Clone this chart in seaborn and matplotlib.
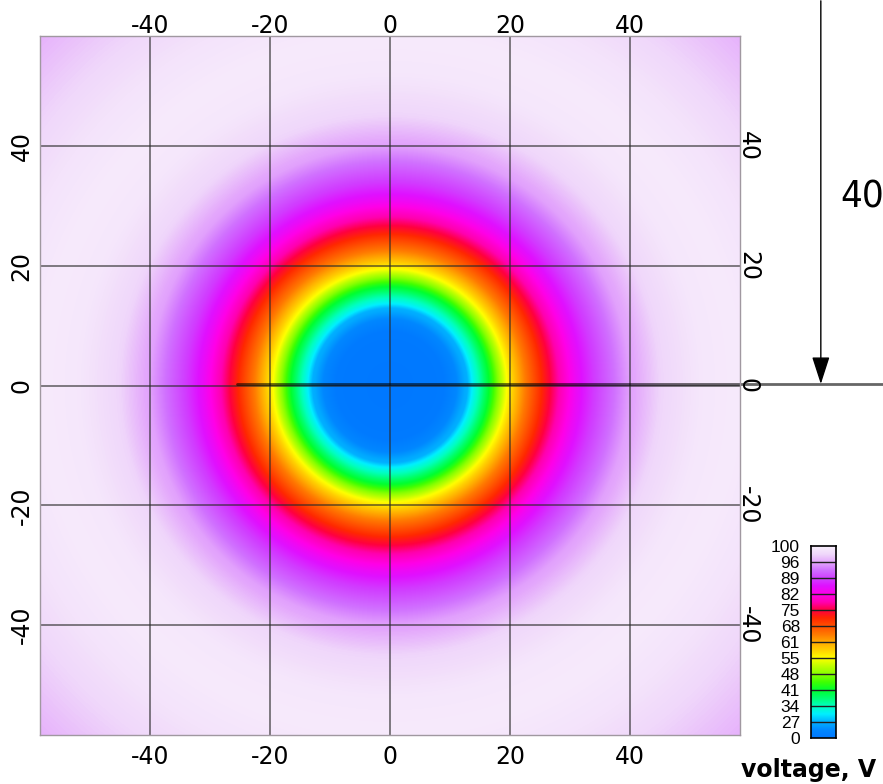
import numpy as np
import matplotlib
matplotlib.use("Agg")
import matplotlib.pyplot as plt
import seaborn as sns
from matplotlib.colors import LinearSegmentedColormap, Normalize

# Radial voltage profile around the electrode centre (distance in µm, voltage in V)
profile_r = [0, 9, 11, 12.5, 13.8, 15.5, 17, 19.5, 22.5, 25.5, 28, 31, 34, 37, 40,
             45, 52, 58, 65, 75, 83]
profile_v = [0, 2, 12, 25, 31, 37, 43, 55, 64, 72, 78, 84, 88.5, 92, 95.5,
             97.8, 99.3, 99.6, 99, 97.5, 96.3]

# Colour scale levels shown on the legend bar
cbar_levels = [0, 27, 34, 41, 48, 55, 61, 68, 75, 82, 89, 96, 100]

# Colour stops of the voltage palette (value, colour)
cmap_values = [0, 13.5, 27, 30.5, 34, 37.5, 41, 44.5, 48, 51.5, 55, 58, 61, 64.5,
               68, 71.5, 75, 78.5, 82, 85.5, 89, 92.5, 96, 98, 100]
cmap_colors = ["#0078ff", "#0088ff", "#00b0ff", "#00f0ff", "#00ffc0", "#00ff70",
               "#00ff30", "#40ff00", "#88ff00", "#c0ff00", "#ffff00", "#ffd000",
               "#ffa800", "#ff7800", "#ff5000", "#ff2800", "#ff0040", "#ff00b0",
               "#ff00e8", "#e010ff", "#d040ff", "#d070ff", "#e4a8fc", "#f0d8fa",
               "#f8eefc"]

# Axis ticks (µm)
tick_values = [-40, -20, 0, 20, 40]
extent_um = 58.33

# Probe line along y = 0 and the 40 µm dimension marker
probe_x = [-25.5, 82.2]
probe_y = [0.25, 0.25]
dim_x = 71.8
dim_y = [64.2, 0.25]
dim_label = "40"

sns.set_theme(style="white")
plt.rcParams["font.family"] = ["DejaVu Sans"]
plt.rcParams["text.color"] = "black"
plt.rcParams["xtick.color"] = "black"
plt.rcParams["ytick.color"] = "black"

cmap = LinearSegmentedColormap.from_list(
    "voltage", list(zip(np.array(cmap_values) / 100.0, cmap_colors)), N=1024)
norm = Normalize(vmin=0, vmax=100)

fig = plt.figure(figsize=(8.83, 7.84), dpi=100)
ax = fig.add_axes([40 / 883, 49 / 784, 700 / 883, 699 / 784])

# Voltage field on a regular grid
grid = np.linspace(-extent_um, extent_um, 700)
X, Y = np.meshgrid(grid, grid)
R = np.hypot(X, Y)
V = np.interp(R, profile_r, profile_v)
ax.imshow(V, extent=[-extent_um, extent_um, -extent_um, extent_um], origin="lower",
          cmap=cmap, norm=norm, interpolation="bilinear", aspect="auto")

ax.set_xticks(tick_values)
ax.set_yticks(tick_values)
ax.set_xticklabels([str(t) for t in tick_values])
ax.set_yticklabels([str(t) for t in tick_values], rotation=90, va="center")
ax.grid(True, color="#2a2a2a", alpha=0.75, lw=1.1)
ax.tick_params(axis="x", length=0, labelsize=17, pad=7, labelcolor="black")
ax.tick_params(axis="y", length=0, labelsize=17, pad=4.5, labelcolor="black")
for s in ax.spines.values():
    s.set_color("#a098a0")
    s.set_linewidth(1)

# Mirrored tick labels on the top and right edges
top = ax.secondary_xaxis("top")
top.set_xticks(tick_values)
top.set_xticklabels([str(t) for t in tick_values])
top.tick_params(length=0, labelsize=17, pad=-1.8, labelcolor="black")
top.spines["top"].set_visible(False)

right = ax.secondary_yaxis("right")
right.set_yticks(tick_values)
right.set_yticklabels([str(t) for t in tick_values], rotation=-90, va="center")
right.tick_params(length=0, labelsize=17, pad=-3, labelcolor="black")
right.spines["right"].set_visible(False)

# Probe line
sns.lineplot(x=probe_x, y=probe_y, ax=ax, color="black", alpha=0.6, lw=2,
             clip_on=False, legend=False)
ax.set_xlim(-extent_um, extent_um)
ax.set_ylim(-extent_um, extent_um)

# Dimension marker
ax.annotate("", xy=(dim_x, dim_y[1]), xytext=(dim_x, dim_y[0]),
            xycoords="data", textcoords="data", annotation_clip=False,
            arrowprops=dict(arrowstyle="-|>,head_length=1.7,head_width=0.55",
                            color="black", lw=1, shrinkA=0, shrinkB=0,
                            mutation_scale=10))
fig.text(840 / 883, (784 - 207) / 784, dim_label, fontsize=27.5,
         family=["DejaVu Sans"], fontstretch="condensed", ha="left",
         va="baseline", color="black")

# Colour legend bar
cax = fig.add_axes([811 / 883, 46 / 784, 25 / 883, 192 / 784])
nb = len(cbar_levels) - 1
steps = 32
bar = np.concatenate([np.linspace(cbar_levels[i], cbar_levels[i + 1], steps)
                      for i in range(nb)])[:, None]
cax.imshow(bar, extent=[0, 1, 0, nb], origin="lower", aspect="auto",
           cmap=cmap, norm=norm, interpolation="bilinear")
for i in range(1, nb):
    cax.axhline(i, color="#202020", lw=1)
cax.set_xlim(0, 1)
cax.set_ylim(0, nb)
cax.set_xticks([])
cax.set_yticks(range(nb + 1))
cax.set_yticklabels([str(v) for v in cbar_levels],
                    family=["Liberation Sans", "DejaVu Sans"], fontsize=12.5)
cax.tick_params(axis="y", length=0, pad=8, labelcolor="black")
for s in cax.spines.values():
    s.set_color("black")
    s.set_linewidth(1.2)

fig.text(741 / 883, 7 / 784, "voltage, V", fontsize=17, fontweight="bold",
         ha="left", va="baseline", color="black")

fig.savefig("out.png", dpi=100)
